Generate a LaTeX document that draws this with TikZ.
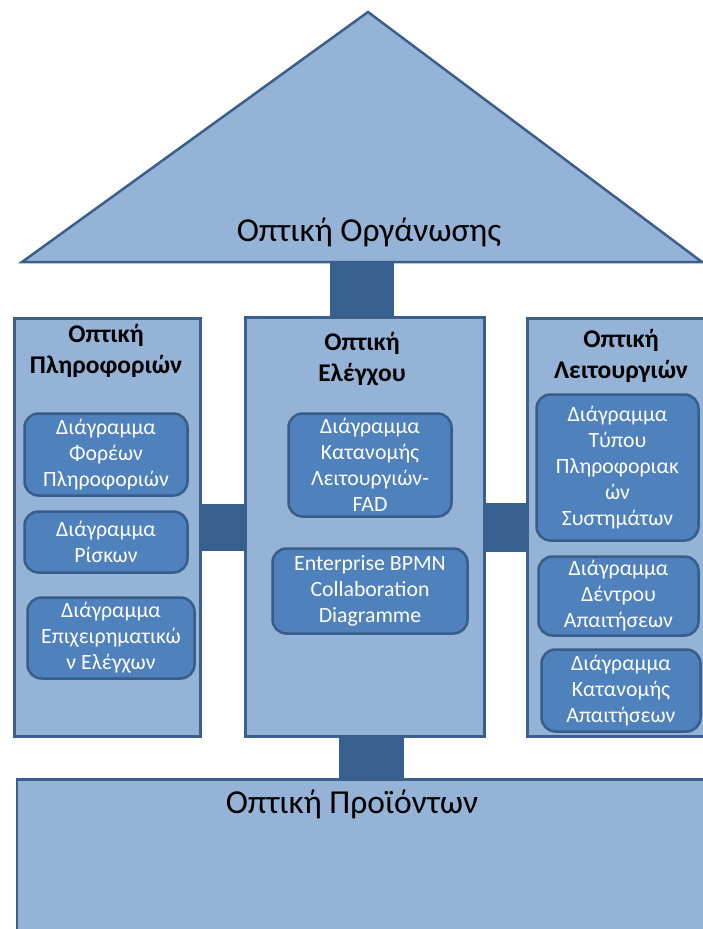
\documentclass[tikz,border=0pt]{standalone}
\usepackage{fontspec}
\setmainfont{Carlito}
\usetikzlibrary{calc,backgrounds}
\definecolor{paneFill}{HTML}{95B3D7}
\definecolor{paneLine}{HTML}{3B5F8C}
\definecolor{cardFill}{HTML}{4F81BD}
\definecolor{cardLine}{HTML}{385D8A}
\definecolor{barFill}{HTML}{37608F}
\tikzset{
  pane/.style={draw=paneLine, fill=paneFill, line width=2.5pt, inner sep=0pt},
  card/.style={draw=cardLine, fill=cardFill, line width=2.5pt, rounded corners=14pt,
    inner sep=0pt, align=center, text=white, font=\fontsize{21.8}{26}\selectfont},
  panetitle/.style={align=center, font=\fontsize{25.5}{31}\selectfont\bfseries},
  bigtitle/.style={font=\fontsize{33.5}{40}\selectfont},
  bar/.style={fill=barFill},
}
\begin{document}
\begin{tikzpicture}[x=1pt,y=-1pt]
\useasboundingbox (0,0) rectangle (702,929);

% roof
\draw[pane, line join=miter] (22,262) -- (368,12) -- (702,262) -- cycle;
\coordinate (roofbase) at (362,262);
\node[bigtitle, anchor=base] (roofT) at (369,241) {Οπτική Οργάνωσης};

% columns
\node[pane, minimum width=186, minimum height=418] (colL) at (107.5,527.5) {};
\node[pane, minimum width=239, minimum height=419] (colM) at (365,527) {};
\node[pane, minimum width=200, minimum height=418] (colR) at (627.5,527.5) {};

% foundation
\node[pane, minimum width=710, minimum height=180] (base) at (372,869.5) {};
\node[bigtitle, anchor=base] (baseT) at (352,813) {Οπτική Προϊόντων};

% column titles
\node[panetitle] (titL) at (106,351) {Οπτική\\Πληροφοριών};
\node[panetitle] (titM) at (362,359) {Οπτική\\Ελέγχου};
\node[panetitle] (titR) at (621,356) {Οπτική\\Λειτουργιών};

% cards, left column
\node[card, minimum width=163, minimum height=82] (L1) at (106,454.5)
  {Διάγραμμα\\Φορέων\\Πληροφοριών};
\node[card, minimum width=163, minimum height=61] (L2) at (106,542)
  {Διάγραμμα\\Ρίσκων};
\node[card, minimum width=167, minimum height=81] (L3) at (111,638)
  {Διάγραμμα\\Επιχειρηματικώ\\ν Ελέγχων};

% cards, middle column
\node[card, minimum width=163, minimum height=103] (M1) at (370,465)
  {Διάγραμμα\\Κατανομής\\Λειτουργιών-\\FAD};
\node[card, minimum width=195, minimum height=85] (M2) at (370,591)
  {Enterprise BPMN\\Collaboration\\Diagramme};

% cards, right column
\node[card, minimum width=162, minimum height=146] (R1) at (617.5,467.5)
  {Διάγραμμα\\Τύπου\\Πληροφοριακ\\ών\\Συστημάτων};
\node[card, minimum width=160, minimum height=79] (R2) at (618.5,596)
  {Διάγραμμα\\Δέντρου\\Απαιτήσεων};
\node[card, minimum width=159, minimum height=82] (R3) at (621,690.5)
  {Διάγραμμα\\Κατανομής\\Απαιτήσεων};

% connecting bars, behind the shapes
\begin{pgfonlayer}{background}
  \fill[bar] ([xshift=-35pt]colM.north) rectangle ([xshift=29pt]colM.north |- roofbase);
  \fill[bar] ([yshift=24pt]colL.east) rectangle ([yshift=-24pt]colM.west);
  \fill[bar] ([yshift=24pt]colM.east) rectangle ([yshift=-24pt]colR.west);
  \fill[bar] ([xshift=-26pt]colM.south) rectangle ([xshift=39pt]colM.south |- base.north);
\end{pgfonlayer}
\end{tikzpicture}
\end{document}
